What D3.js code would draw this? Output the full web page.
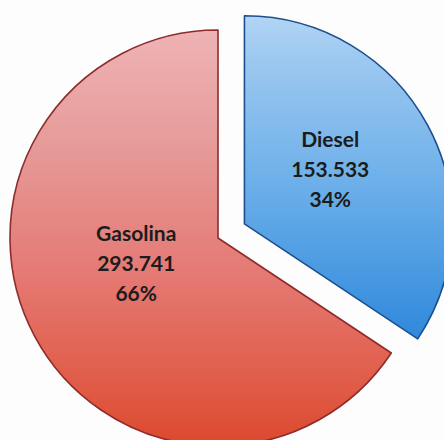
<!DOCTYPE html>
<html>
<head>
<meta charset="utf-8">
<script src="https://cdn.jsdelivr.net/npm/d3@7"></script>
<style>
  html, body { margin: 0; padding: 0; background: #fdfdfd; }
  svg { display: block; }
</style>
</head>
<body>
<svg id="chart" width="444" height="440"></svg>
<script>
// Fuel sales by type
const categories = ["Diesel", "Gasolina"];
const values = [153533, 293741];

const width = 444, height = 440;
const cx = 218, cy = 238, radius = 208;
const explode = 30; // Diesel slice is pulled out

// Vertical shading of each slice: [page y, colour] stops
const shading = {
  Diesel: [[15, "#b2d5f4"], [60, "#9cc8f0"], [190, "#6aaee9"], [310, "#3a90de"], [340, "#2f88db"]],
  Gasolina: [[30, "#efb3b5"], [150, "#e59a98"], [270, "#e57a75"], [390, "#e05a45"], [440, "#dc4a30"]]
};
const strokes = { Diesel: "#1d4f8f", Gasolina: "#8e2b2b" };

const ptBR = d3.formatLocale({ decimal: ",", thousands: ".", grouping: [3], currency: ["R$", ""] });
const fmtValue = ptBR.format(",d");
const fmtPct = d3.format(".0%");

const total = d3.sum(values);
const data = categories.map((c, i) => ({ name: c, value: values[i] }));

const pie = d3.pie().sort(null).value(d => d.value).startAngle(0);
const arcs = pie(data);
const arc = d3.arc().innerRadius(0).outerRadius(radius);
const labelArc = d3.arc().innerRadius(0).outerRadius(radius * 0.98);

function offsetOf(a) {
  const mid = (a.startAngle + a.endAngle) / 2;
  const k = a.data.name === "Diesel" ? explode : 0;
  return [Math.sin(mid) * k, -Math.cos(mid) * k];
}

const svg = d3.select("#chart");
const defs = svg.append("defs");

// Gradients are set in each slice's own (translated) coordinates
arcs.forEach(a => {
  const stops = shading[a.data.name];
  const oy = cy + offsetOf(a)[1];
  const y0 = stops[0][0], y1 = stops[stops.length - 1][0];
  const g = defs.append("linearGradient")
    .attr("id", "grad-" + a.data.name)
    .attr("gradientUnits", "userSpaceOnUse")
    .attr("x1", 0).attr("x2", 0)
    .attr("y1", y0 - oy).attr("y2", y1 - oy);
  stops.forEach(([y, c]) => {
    g.append("stop").attr("offset", (y - y0) / (y1 - y0)).attr("stop-color", c);
  });
});

const slices = svg.append("g").selectAll("g.slice")
  .data(arcs)
  .join("g")
  .attr("class", "slice")
  .attr("transform", d => {
    const [dx, dy] = offsetOf(d);
    return `translate(${cx + dx},${cy + dy})`;
  });

slices.append("path")
  .attr("d", arc)
  .attr("fill", d => `url(#grad-${d.data.name})`)
  .attr("stroke", d => strokes[d.data.name])
  .attr("stroke-width", 1.6)
  .attr("stroke-linejoin", "round");

// Labels: name, value and share
const nudge = { Diesel: [-4, -6], Gasolina: [8, -22] };
slices.append("text")
  .attr("transform", d => {
    const [x, y] = labelArc.centroid(d);
    const n = nudge[d.data.name];
    return `translate(${x + n[0]},${y + n[1]})`;
  })
  .attr("text-anchor", "middle")
  .attr("font-family", "Lato, 'Open Sans', sans-serif")
  .attr("font-weight", "bold")
  .attr("font-size", 21)
  .attr("fill", "#1c1c1c")
  .selectAll("tspan")
  .data(d => [d.data.name, fmtValue(d.data.value), fmtPct(d.data.value / total)])
  .join("tspan")
  .attr("x", 0)
  .attr("y", (t, i) => (i - 1) * 30 + 7)
  .text(t => t);
</script>
</body>
</html>
